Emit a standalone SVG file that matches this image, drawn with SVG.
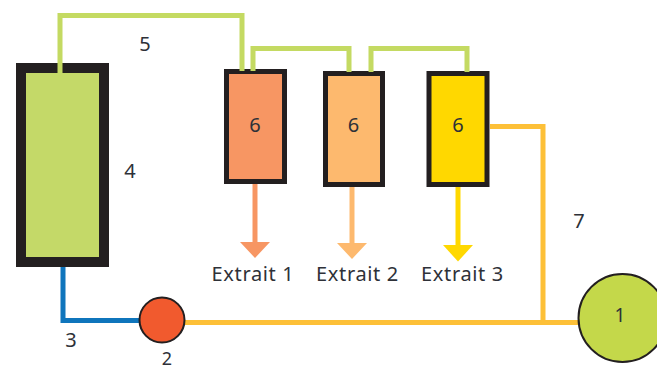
<svg xmlns="http://www.w3.org/2000/svg" width="657" height="370" viewBox="0 0 657 370">
<style>
.t{font-family:"Noto Sans","Liberation Sans",sans-serif;font-size:20px;fill:#2e3138;text-anchor:middle}
.x{letter-spacing:.65px}
.c{fill:none;stroke-width:5;stroke-linejoin:miter}
.g{stroke:#c4da62}
.o{stroke:#fdc038}
</style>
<rect width="657" height="370" fill="#fff"/>
<g id="reactor-4"><rect x="21" y="68" width="83" height="194" fill="#c4d968" stroke="#231f20" stroke-width="10"/></g>
<g id="extractor-1"><rect x="226.5" y="71.5" width="58" height="110" fill="#f79663" stroke="#231f20" stroke-width="5"/><text class="t" x="255" y="131.500">6</text></g>
<g id="extractor-2"><rect x="325.5" y="73.5" width="57" height="111" fill="#fdb96e" stroke="#231f20" stroke-width="5"/><text class="t" x="353.500" y="131.500">6</text></g>
<g id="extractor-3"><rect x="429" y="73.500" width="58" height="111" fill="#ffd800" stroke="#231f20" stroke-width="5"/><text class="t" x="458" y="131.500">6</text></g>
<g id="connectors">
<path class="c g" d="M60 73V15.500H242V71"/>
<path class="c g" d="M253 71V48.500H349V72"/>
<path class="c g" d="M371 72V48.500H467V72"/>
<path class="c o" d="M490 126.500H543V322"/>
<path class="c o" d="M184 322.500H580"/>
<path class="c" stroke="#0f75bc" d="M63 267V320.500H140"/>
<path class="c" stroke="#f79663" d="M255 184V244"/>
<path fill="#f79663" d="M240 242H270L255 258Z"/>
<path class="c" stroke="#fdb96e" d="M352 187V245"/>
<path fill="#fdb96e" d="M337 243H367L352 259Z"/>
<path class="c" stroke="#ffd800" d="M458 187V247"/>
<path fill="#ffd800" d="M443 245H473L458 261.500Z"/>
</g>
<g id="pump-2"><circle cx="162" cy="320" r="22.500" fill="#f15a2e" stroke="#231f20" stroke-width="2"/></g>
<g id="source-1"><circle cx="622.500" cy="318" r="44" fill="#c4d84a" stroke="#231f20" stroke-width="2"/><text class="t" x="620" y="322" style="font-size:19px">1</text></g>
<g id="labels">
<text class="t" x="145" y="51">5</text>
<text class="t" x="130" y="177.500">4</text>
<text class="t" x="71" y="347">3</text>
<text class="t" x="167" y="364.500" style="font-size:18px">2</text>
<text class="t" x="579" y="228">7</text>
<text class="t x" x="253" y="281">Extrait 1</text>
<text class="t x" x="357.500" y="281">Extrait 2</text>
<text class="t x" x="462.500" y="281">Extrait 3</text>
</g>
</svg>
